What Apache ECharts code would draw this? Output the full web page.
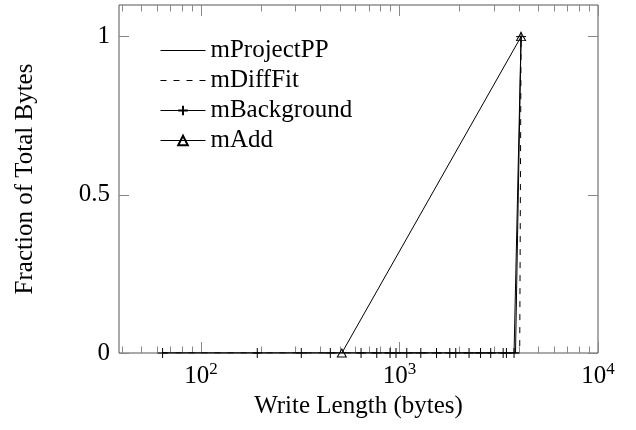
<!DOCTYPE html>
<html><head><meta charset="utf-8">
<script src="https://cdn.jsdelivr.net/npm/echarts@6/dist/echarts.min.js"></script>
<style>html,body{margin:0;padding:0;background:#fff}#c{width:636px;height:430px}</style>
</head><body><div id="c"></div>
<script>
const seriesNames = ['mProjectPP', 'mDiffFit', 'mBackground', 'mAdd'];
const mProjectPP = [[64, 0], [3840, 0], [4096, 1]];
const mDiffFit = [[64, 0], [4032, 0], [4096, 1]];
const mBackgroundX = [64, 192, 320, 448, 640, 768, 896, 960, 1088, 1280, 1536, 1792, 1920, 2240, 2560, 2880, 3328, 3456, 3776, 4096];
const mBackgroundY = [0, 0, 0, 0, 0, 0, 0, 0, 0, 0, 0, 0, 0, 0, 0, 0, 0, 0, 0, 1];
const mAdd = [[512, 0], [4096, 1]];
const xMajorTicks = [100, 1000, 10000];
const xMinorTicks = [40, 50, 60, 70, 80, 90, 200, 300, 400, 500, 600, 700, 800, 900, 2000, 3000, 4000, 5000, 6000, 7000, 8000, 9000];
const yTicks = [0, 0.5, 1];
const xRange = [38.6, 10000];
const yRange = [0, 1.1];

const FONT = 'Liberation Serif';
const FS = 25;
const TICK = '#888';

function xAxisDef(pos, ticks, len, withLabel) {
  return {
    type: 'log', logBase: 10, position: pos, min: xRange[0], max: xRange[1],
    axisLine: {show: false},
    splitLine: {show: false},
    axisTick: {show: true, inside: true, length: len, customValues: ticks, lineStyle: {color: TICK, width: 1}},
    axisLabel: withLabel ? {
      show: true, customValues: xMajorTicks, margin: 8,
      formatter: v => '{b|10}{s|' + Math.round(Math.log10(v)) + '}',
      rich: {
        b: {fontFamily: FONT, fontSize: FS, color: '#000', lineHeight: 28, verticalAlign: 'bottom'},
        s: {fontFamily: FONT, fontSize: 17, color: '#000', lineHeight: 17, verticalAlign: 'top'}
      }
    } : {show: false}
  };
}

const xAxes = [
  Object.assign(xAxisDef('bottom', xMajorTicks, 11, true), {
    name: 'Write Length (bytes)', nameLocation: 'middle', nameGap: 40,
    nameTextStyle: {fontFamily: FONT, fontSize: FS, color: '#000'}
  }),
  xAxisDef('bottom', xMinorTicks, 6.5, false),
  xAxisDef('top', xMajorTicks, 11, false),
  xAxisDef('top', xMinorTicks, 6.5, false)
];

function yAxisDef(pos, withLabel) {
  const a = {
    type: 'value', position: pos, min: yRange[0], max: yRange[1],
    axisLine: {show: false}, splitLine: {show: false},
    axisTick: {show: true, inside: true, length: 10, customValues: yTicks, lineStyle: {color: TICK, width: 1}},
    axisLabel: withLabel ? {show: true, customValues: yTicks, margin: 9, fontFamily: FONT, fontSize: FS, color: '#000'} : {show: false}
  };
  if (withLabel) {
    a.name = 'Fraction of Total Bytes';
    a.nameLocation = 'middle';
    a.nameGap = 81;
    a.nameRotate = 90;
    a.nameTextStyle = {fontFamily: FONT, fontSize: FS, color: '#000'};
  }
  return a;
}

const option = {
  animation: false,
  backgroundColor: '#fff',
  grid: {left: 119, right: 38, top: 5, bottom: 77, show: true, borderColor: '#555', borderWidth: 1, backgroundColor: 'transparent'},
  legend: {
    data: [
      {name: seriesNames[0], itemStyle: {opacity: 0}},
      {name: seriesNames[1], itemStyle: {opacity: 0}},
      {name: seriesNames[2]},
      {name: seriesNames[3]}
    ],
    orient: 'vertical', left: 160, top: 38, padding: 0,
    itemWidth: 45, itemHeight: 12, itemGap: 5,
    textStyle: {fontFamily: FONT, fontSize: FS, color: '#000', lineHeight: 25},
    lineStyle: {width: 1},
    inactiveColor: '#000'
  },
  xAxis: xAxes,
  yAxis: [yAxisDef('left', true), yAxisDef('right', false)],
  series: [
    {name: seriesNames[0], type: 'line', data: mProjectPP, symbol: 'none',
     lineStyle: {color: '#000', width: 1}, itemStyle: {color: '#000'}},
    {name: seriesNames[1], type: 'line', data: mDiffFit, symbol: 'none',
     lineStyle: {color: '#000', width: 1, type: [6, 7]}, itemStyle: {color: '#000'}},
    {name: seriesNames[2], type: 'line', data: mBackgroundX.map((x, i) => [x, mBackgroundY[i]]),
     symbol: 'path://M5,0L5,10M0,5L10,5', symbolSize: 10, showSymbol: true,
     lineStyle: {color: '#000', width: 1}, itemStyle: {color: 'none', borderColor: '#000', borderWidth: 1}},
    {name: seriesNames[3], type: 'line', data: mAdd,
     symbol: 'triangle', symbolSize: [9, 8], showSymbol: true,
     lineStyle: {color: '#000', width: 1}, itemStyle: {color: 'none', borderColor: '#000', borderWidth: 1}}
  ]
};
const chart = echarts.init(document.getElementById('c'), null, {renderer: 'canvas'});
chart.setOption(option);
</script></body></html>
